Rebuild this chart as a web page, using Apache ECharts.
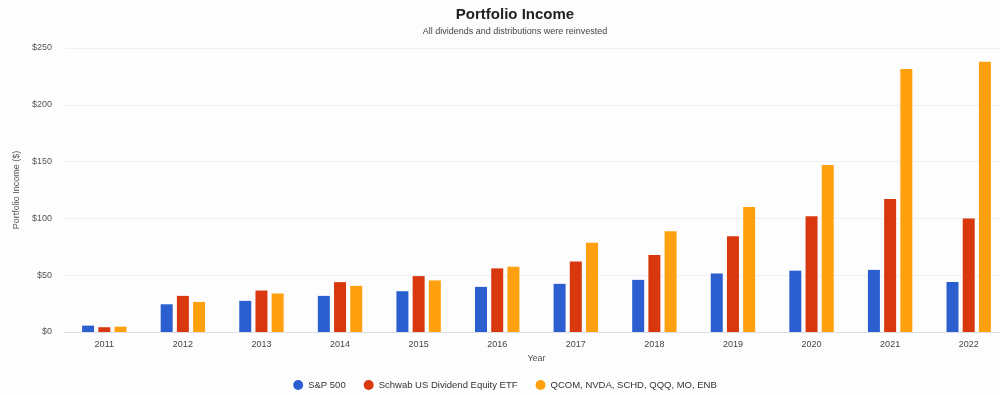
<!DOCTYPE html>
<html><head><meta charset="utf-8">
<script src="https://cdn.jsdelivr.net/npm/echarts@6/dist/echarts.min.js"></script>
<style>html,body{margin:0;padding:0;background:#fdfdfd;overflow:hidden;width:1000px;height:395px;}#c{width:1010px;height:395px;}</style>
</head><body><div id="c"></div>
<script>
const years = ['2011','2012','2013','2014','2015','2016','2017','2018','2019','2020','2021','2022'];
const sp500 = [5.6, 24.4, 27.4, 31.8, 35.9, 39.7, 42.4, 45.9, 51.5, 54, 54.7, 44];
const schd = [4.2, 31.8, 36.5, 43.9, 49.2, 56, 62.1, 67.7, 84.2, 102, 117, 100];
const basket = [4.7, 26.5, 33.9, 40.6, 45.4, 57.4, 78.6, 88.6, 110, 147, 231.5, 238];
const seriesNames = ['S&P 500', 'Schwab US Dividend Equity ETF', 'QCOM, NVDA, SCHD, QQQ, MO, ENB'];
const yTicks = [0, 50, 100, 150, 200, 250];

const chart = echarts.init(document.getElementById('c'), null, {renderer:'canvas'});
const font = 'Liberation Sans, Arial, sans-serif';
const colors = ['#2b5fd0', '#d9380f', '#ffa00f'];
const mk = (name, data, i) => ({
  name, type:'bar', data, barWidth: 12, barGap: '35%',
  itemStyle:{color: colors[i]}
});
chart.setOption({
  backgroundColor:'#fdfdfd',
  animation:false,
  textStyle:{fontFamily:font},
  title:{
    text:'Portfolio Income', subtext:'All dividends and distributions were reinvested',
    left:510, textAlign:'center', top:2, itemGap:5,
    textStyle:{fontSize:15, fontWeight:'bold', color:'#222', fontFamily:font},
    subtextStyle:{fontSize:9, color:'#444', fontFamily:font}
  },
  legend:{
    data: seriesNames, top:375, left:'center', icon:'circle', itemWidth:10, itemHeight:10, itemGap:18,
    textStyle:{fontSize:9.5, color:'#333', fontFamily:font}
  },
  grid:{left:65, width:943, top:48, bottom:63},
  xAxis:{
    type:'category', data: years, name:'Year', nameLocation:'middle', nameGap:22,
    nameTextStyle:{fontSize:9, color:'#555'},
    axisTick:{show:false},
    axisLine:{lineStyle:{color:'#d8dde6'}},
    axisLabel:{fontSize:9, color:'#444', margin:8}
  },
  yAxis:{
    type:'value', min:yTicks[0], max:yTicks[yTicks.length-1], interval:50,
    name:'Portfolio Income ($)', nameLocation:'middle', nameGap:33,
    nameTextStyle:{fontSize:9, color:'#555'},
    axisLabel:{fontSize:9, color:'#555', formatter: v => '$' + v, margin:13},
    splitLine:{lineStyle:{color:'#eceff4'}}
  },
  series:[mk(seriesNames[0], sp500, 0), mk(seriesNames[1], schd, 1), mk(seriesNames[2], basket, 2)]
});
</script></body></html>
